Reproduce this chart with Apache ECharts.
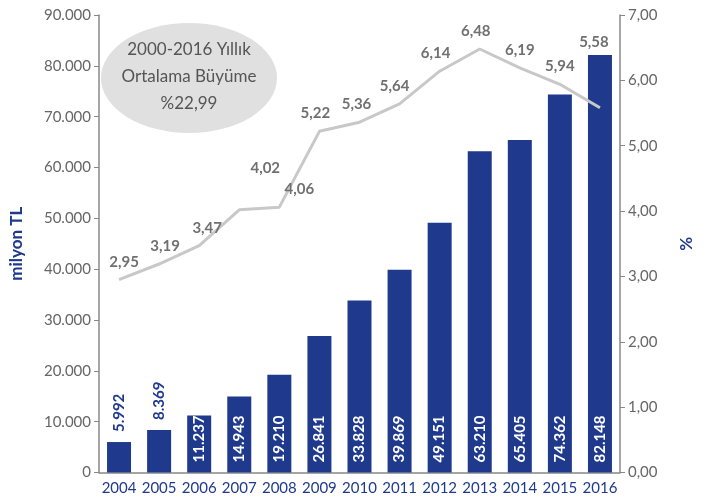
<!DOCTYPE html>
<html><head><meta charset="utf-8">
<script src="https://cdn.jsdelivr.net/npm/echarts@6/dist/echarts.min.js"></script>
<style>html,body{margin:0;padding:0;background:#fff}#c{width:703px;height:499px}</style>
</head><body><div id="c"></div>
<script>
const years = ['2004','2005','2006','2007','2008','2009','2010','2011','2012','2013','2014','2015','2016'];
const amounts = [5992, 8369, 11237, 14943, 19210, 26841, 33828, 39869, 49151, 63210, 65405, 74362, 82148];
const growth = [2.95, 3.19, 3.47, 4.02, 4.06, 5.22, 5.36, 5.64, 6.14, 6.48, 6.19, 5.94, 5.58];
const leftTicks = [0, 10000, 20000, 30000, 40000, 50000, 60000, 70000, 80000, 90000];
const rightTicks = [0, 1, 2, 3, 4, 5, 6, 7];
const noteLines = ['2000-2016 Yıllık', 'Ortalama Büyüme', '%22,99'];

const BLUE = '#1f3a8c';
const FONT = 'Lato, "Open Sans", sans-serif';
const fmtThousand = v => v === 0 ? '0' : String(v).replace(/\B(?=(\d{3})+(?!\d))/g, '.');
const fmtPct = v => v.toFixed(2).replace('.', ',');

// label tweaks (presentation only)
const lineLabelOffset = {0: [5, 0], 1: [6, 0], 2: [8, 0], 3: [26, -24], 4: [20, 0], 5: [-4, 0], 6: [-3, 0], 7: [-5, 0], 8: [-4, 0], 9: [-4, 0], 12: [-6, -48]};
const outsideBar = {0: true, 1: true};

const chart = echarts.init(document.getElementById('c'));
chart.setOption({
  animation: false,
  grid: {left: 94, right: 61, top: 15, bottom: 26.5},
  xAxis: {
    type: 'category', data: years,
    axisLine: {lineStyle: {color: '#888', width: 1.5}},
    axisTick: {show: false},
    axisLabel: {color: BLUE, fontSize: 15, fontFamily: FONT, margin: 8, interval: 0}
  },
  yAxis: [{
    type: 'value', min: 0, max: 90000, interval: 10000,
    name: 'milyon TL', nameLocation: 'middle', nameGap: 74, nameRotate: 90,
    nameTextStyle: {color: BLUE, fontWeight: 'bold', fontSize: 17, fontFamily: FONT},
    axisLine: {show: true, lineStyle: {color: '#888', width: 1.5}},
    axisTick: {show: true, length: 5, lineStyle: {color: '#888'}},
    splitLine: {show: false},
    axisLabel: {color: '#666', fontSize: 15, fontFamily: FONT, margin: 8,
      formatter: v => leftTicks.includes(v) ? fmtThousand(v) : ''}
  }, {
    type: 'value', min: 0, max: 7, interval: 1, position: 'right',
    name: '%', nameLocation: 'middle', nameGap: 58, nameRotate: 90,
    nameTextStyle: {color: BLUE, fontWeight: 'bold', fontSize: 17, fontFamily: FONT},
    axisLine: {show: true, lineStyle: {color: '#888', width: 1.5}},
    axisTick: {show: true, length: 5, lineStyle: {color: '#888'}},
    splitLine: {show: false},
    axisLabel: {color: '#666', fontSize: 15, fontFamily: FONT, margin: 8,
      formatter: v => rightTicks.includes(v) ? fmtPct(v) : ''}
  }],
  series: [{
    type: 'bar', yAxisIndex: 0, barWidth: 24,
    itemStyle: {color: BLUE},
    data: amounts.map((v, i) => ({
      value: v,
      label: outsideBar[i] ? {
        show: true, position: 'top', rotate: 90, align: 'left', verticalAlign: 'middle',
        distance: 10, color: BLUE, fontWeight: 'bold', fontSize: 15, fontFamily: FONT,
        formatter: p => fmtThousand(p.value)
      } : {
        show: true, position: 'insideBottom', rotate: 90, align: 'left', verticalAlign: 'middle',
        distance: 10, color: '#fff', fontWeight: 'bold', fontSize: 15, fontFamily: FONT,
        formatter: p => fmtThousand(p.value)
      }
    }))
  }, {
    type: 'line', yAxisIndex: 1, symbol: 'circle', symbolSize: 1, showSymbol: true,
    itemStyle: {color: 'rgba(0,0,0,0)'},
    lineStyle: {color: '#c8c8c8', width: 3},
    z: 3,
    data: growth.map((v, i) => ({
      value: v,
      label: {
        show: true, position: 'top', distance: 10,
        offset: lineLabelOffset[i] || [0, 0],
        color: '#707070', fontWeight: 'bold', fontSize: 15, fontFamily: FONT,
        formatter: p => fmtPct(p.value)
      }
    }))
  }],
  graphic: [{
    type: 'circle', x: 189, y: 78, scaleX: 1.6, scaleY: 1,
    shape: {cx: 0, cy: 0, r: 55},
    style: {fill: '#e0e0e0'}, z: 10
  }, {
    type: 'text', x: 189, y: 77, z: 11,
    style: {text: noteLines.join('\n'), fill: '#555', fontSize: 17, fontFamily: FONT,
      textAlign: 'center', textVerticalAlign: 'middle', lineHeight: 27}
  }]
});
</script>
</body></html>
